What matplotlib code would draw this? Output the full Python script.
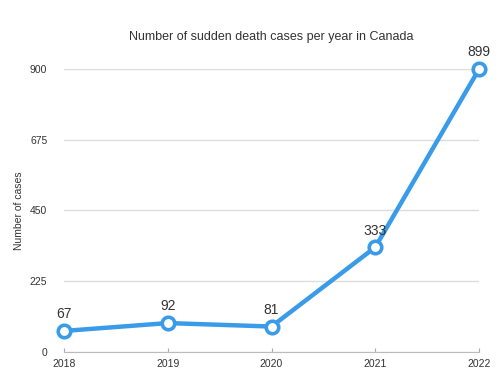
import matplotlib
matplotlib.use('Agg')
import matplotlib.pyplot as plt

# 데이터
years = [2018, 2019, 2020, 2021, 2022]
cases = [67, 92, 81, 333, 899]
y_ticks = [0, 225, 450, 675, 900]

plt.rcParams['font.family'] = ['Liberation Sans', 'DejaVu Sans']

fig = plt.figure(figsize=(5, 3.79), dpi=100)
ax = fig.add_axes([0.128, 0.0712, 0.83, 0.747])

line_color = '#3a9be8'
ax.plot(years, cases, color=line_color, lw=3.2, marker='o', ms=9,
        mfc='white', mec=line_color, mew=2.6, clip_on=False, zorder=3)

for x, y in zip(years, cases):
    ax.annotate(str(y), (x, y), xytext=(0, 7), textcoords='offset points',
                ha='center', va='bottom', fontsize=10, color='#333333')

ax.set_xlim(2018, 2022)
ax.set_ylim(0, 900)
ax.set_xticks(years)
ax.set_yticks(y_ticks)
ax.tick_params(axis='y', length=0, labelsize=7.5, pad=12, labelcolor='#333333')
ax.tick_params(axis='x', length=3, width=0.8, color='#aaaaaa', direction='in',
               labelsize=7.5, pad=5, labelcolor='#333333')

ax.grid(axis='y', color='#dddddd', lw=1)
for s in ['top', 'right', 'left']:
    ax.spines[s].set_visible(False)
ax.spines['bottom'].set_color('#bbbbbb')

ax.set_ylabel('Number of cases', fontsize=7.5, color='#333333', labelpad=4)
ax.set_title('Number of sudden death cases per year in Canada', fontsize=9,
             color='#333333', pad=21)

fig.savefig('out.png', dpi=100)
